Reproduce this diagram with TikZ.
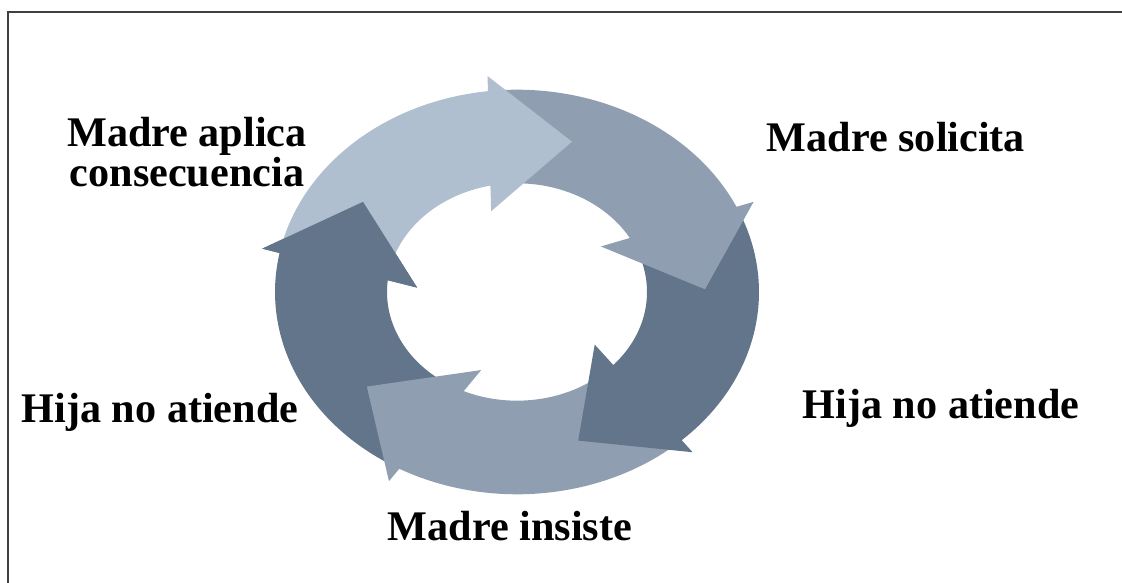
\documentclass[tikz,border=0pt]{standalone}
\usepackage{fontspec}
\setmainfont{Liberation Serif}
\usepackage{tikz}
\usetikzlibrary{positioning}

\definecolor{cycleLight}{HTML}{B0BFCF}
\definecolor{cycleMid}{HTML}{8F9FB1}
\definecolor{cycleDark}{HTML}{63758B}

\begin{document}
\begin{tikzpicture}[%
    x=0.025cm,
    y=0.025cm,
    phase/.style={%
        font=\bfseries\fontsize{30}{28.5}\selectfont,
        align=center,
        inner sep=0pt
    },
    frameLine/.style={%
        draw=black!75,
        line width=1.4pt
    }
]
\useasboundingbox (0,0) rectangle (1122,583);

% Frame
\draw[frameLine] (8,0) -- (8,571) -- (1122,571);

% Cycle (each arrow drawn whole, last one's head put back on top)
\begin{scope}[shift={(517,291)}, yscale=0.836]
    \foreach \tip/\col in {145/cycleDark, -143/cycleMid, -71/cycleDark, 1/cycleMid, 73/cycleLight}{
        \fill[\col] plot[domain=\tip+94.4:\tip+23.9, samples=50, variable=\t] (\t:242)
            -- (\tip+23.5:260) -- (\tip:188) -- (\tip+32:100)
            -- plot[domain=\tip+28.8:\tip+99.3, samples=50, variable=\t] (\t:130) -- cycle;
    }
    \fill[cycleDark] (168.5:260) -- (145:188) -- (177:100) -- cycle;
\end{scope}

% Labels
    \node[phase, anchor=center] (aplica) at (187,431) {Madre aplica\\consecuencia};
    \node[phase, anchor=base] (solicita) at (896,431) {Madre solicita};
    \node[phase, anchor=base] (atiendeRight) at (941,164) {Hija no atiende};
    \node[phase, anchor=base] (insiste) at (510,42) {Madre insiste};
    \node[phase, anchor=base] (atiendeLeft) at (160,160) {Hija no atiende};

\end{tikzpicture}
\end{document}
